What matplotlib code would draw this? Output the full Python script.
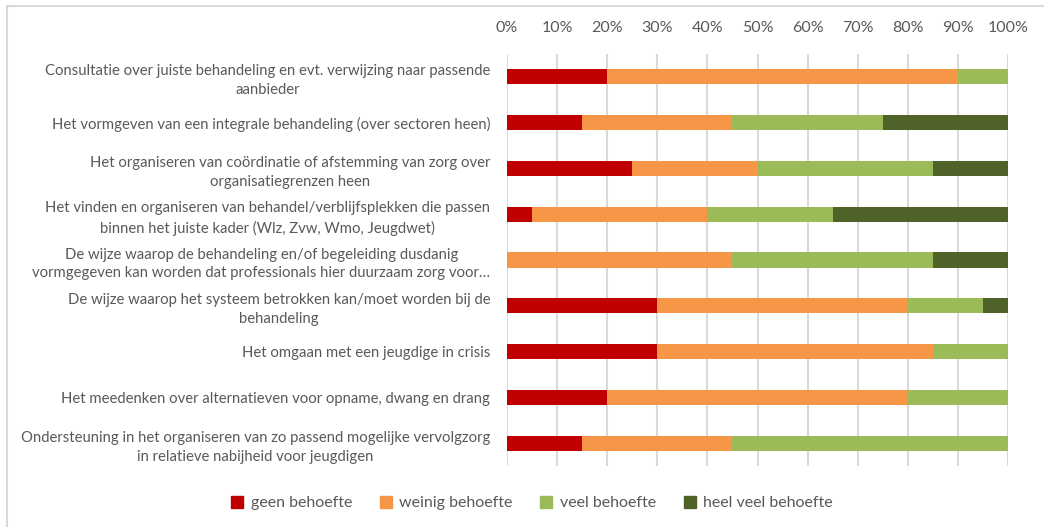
import matplotlib
matplotlib.use("Agg")
import matplotlib.pyplot as plt
from matplotlib.lines import Line2D
import numpy as np

categories = [
    "Consultatie over juiste behandeling en evt. verwijzing naar passende\naanbieder",
    "Het vormgeven van een integrale behandeling (over sectoren heen)",
    "Het organiseren van coördinatie of afstemming van zorg over\norganisatiegrenzen heen",
    "Het vinden en organiseren van behandel/verblijfsplekken die passen\nbinnen het juiste kader (Wlz, Zvw, Wmo, Jeugdwet)",
    "De wijze waarop de behandeling en/of begeleiding dusdanig\nvormgegeven kan worden dat professionals hier duurzaam zorg voor…",
    "De wijze waarop het systeem betrokken kan/moet worden bij de\nbehandeling",
    "Het omgaan met een jeugdige in crisis",
    "Het meedenken over alternatieven voor opname, dwang en drang",
    "Ondersteuning in het organiseren van zo passend mogelijke vervolgzorg\nin relatieve nabijheid voor jeugdigen",
]
series_names = ["geen behoefte", "weinig behoefte", "veel behoefte", "heel veel behoefte"]
geen = [20, 15, 25, 5, 0, 30, 30, 20, 15]
weinig = [70, 30, 25, 35, 45, 50, 55, 60, 30]
veel = [10, 30, 35, 25, 40, 15, 15, 20, 55]
heel_veel = [0, 25, 15, 35, 15, 5, 0, 0, 0]
colors = ["#C00000", "#F79646", "#9BBB59", "#4F6228"]
tick_values = [0, 10, 20, 30, 40, 50, 60, 70, 80, 90, 100]

plt.rcParams['font.family'] = ['Lato', 'DejaVu Sans']
text_color = "#595959"

fig = plt.figure(figsize=(10.44, 5.27), dpi=100)
ax = fig.add_axes([507/1044, 1-466/527, 501/1044, 412/527])

y = np.arange(len(categories))
left = np.zeros(len(categories))
for vals, name, c in zip([geen, weinig, veel, heel_veel], series_names, colors):
    v = np.array(vals, dtype=float)
    ax.barh(y, v, left=left, height=0.33, color=c, label=name, zorder=3)
    left += v

ax.set_xlim(0, 100)
ax.set_ylim(len(categories) - 0.5, -0.5)
ax.set_xticks(tick_values)
ax.set_xticklabels([f"{t}%" for t in tick_values])
ax.xaxis.tick_top()
ax.tick_params(axis='x', length=0, pad=14, labelsize=11.5, labelcolor=text_color)
ax.set_yticks(y)
ax.set_yticklabels(categories)
ax.tick_params(axis='y', length=0, pad=12, labelsize=10.7, labelcolor=text_color)
for lbl in ax.get_yticklabels():
    lbl.set_multialignment('center')
    lbl.set_linespacing(1.45)
ax.grid(axis='x', color='#D9D9D9', linewidth=1.5, zorder=0)
for s in ax.spines.values():
    s.set_visible(False)

handles = [Line2D([0], [0], marker='s', linestyle='none', markersize=9,
                  markerfacecolor=c, markeredgecolor=c) for c in colors]
leg = fig.legend(handles, series_names, loc='center', bbox_to_anchor=(531/1044, 1-503/527),
                 ncol=4, frameon=False, fontsize=11.5, handletextpad=0.35, columnspacing=1.6,
                 handlelength=1.0)
for t in leg.get_texts():
    t.set_color(text_color)

# chart border (left and top visible)
fig.add_artist(Line2D([7/1044, 7/1044], [0, 1-6/527], color='#D9D9D9', linewidth=1.5))
fig.add_artist(Line2D([7/1044, 1], [1-6/527, 1-6/527], color='#D9D9D9', linewidth=1.5))

fig.savefig("out.png", dpi=100)
